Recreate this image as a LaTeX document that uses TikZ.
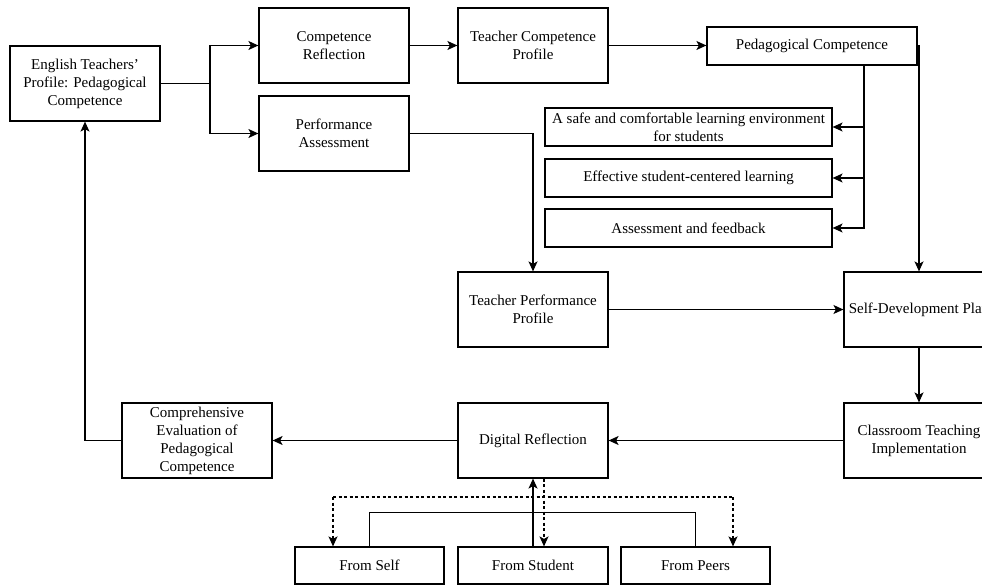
\documentclass[tikz,border=0pt]{standalone}
\usepackage{fontspec}
\setmainfont{Liberation Serif}
\usetikzlibrary{arrows.meta,calc}
\begin{document}
\begin{tikzpicture}[x=1pt,y=-1pt,
  box/.style={draw, line width=1.2pt, rectangle, align=center, inner sep=2pt,
    font=\fontsize{15}{18}\selectfont, minimum width=150pt, minimum height=75pt},
  sbox/.style={box, minimum height=38pt},
  conn/.style={line width=1.2pt},
  arr/.style={conn, -{Stealth[length=10pt,width=9pt,inset=2.5pt]}},
  dashline/.style={conn, dash pattern=on 3pt off 2.5pt},
  dasharr/.style={dashline, -{Stealth[length=10pt,width=9pt,inset=2.5pt]}},
  ]
\useasboundingbox (0,0) rectangle (982,585);
\clip (0,0) rectangle (982,585);

% nodes
\node[box] (eng) at (85,83.5) {English Teachers’\\Profile: Pedagogical\\Competence};
\node[box] (cr) at (334,45.5) {Competence\\Reflection};
\node[box] (pa) at (334,133.5) {Performance\\Assessment};
\node[box] (tcp) at (533,45.5) {Teacher Competence\\Profile};
\node[sbox, minimum width=210pt] (pc) at (812,46) {Pedagogical Competence};
\node[sbox, minimum width=287pt] (s1) at (688.5,127) {A safe and comfortable learning environment\\for students};
\node[sbox, minimum width=287pt] (s2) at (688.5,178) {Effective student-centered learning};
\node[sbox, minimum width=287pt] (s3) at (688.5,228) {Assessment and feedback};
\node[box] (tpp) at (533,309.5) {Teacher Performance\\Profile};
\node[box] (sdp) at (919,309.5) {Self-Development Plan};
\node[box] (cti) at (919,440.5) {Classroom Teaching\\Implementation};
\node[box] (dr) at (533,440.5) {Digital Reflection};
\node[box] (ce) at (197,440.5) {Comprehensive\\Evaluation of\\Pedagogical\\Competence};
\node[box, minimum width=149pt, minimum height=37pt] (fself) at (369.5,565.5) {From Self};
\node[box, minimum width=150pt, minimum height=37pt] (fstud) at (533,565.5) {From Student};
\node[box, minimum width=149pt, minimum height=37pt] (fpeer) at (695.5,565.5) {From Peers};

% coordinates
\coordinate (split) at (210,83.5);
\coordinate (pcb) at (864,65);
\coordinate (dl) at (333,497);
\coordinate (dRr) at (733,497);

% connectors
\draw[conn] (eng.east) -- (split);
\draw[arr] (split) |- (cr.west);
\draw[arr] (split) |- (pa.west);
\draw[arr] (cr) -- (tcp);
\draw[arr] (tcp.east) -- (tcp.east -| pc.west);
\draw[arr] (pc.east) -| (sdp.north);
\draw[arr] (pcb) |- (s1.east);
\draw[arr] (pcb) |- (s2.east);
\draw[arr] (pcb) |- (s3.east);
\draw[arr] (pa.east) -| (tpp.north);
\draw[arr] (tpp) -- (sdp);
\draw[arr] (sdp) -- (cti);
\draw[arr] (cti) -- (dr);
\draw[arr] (dr) -- (ce);
\draw[arr] (ce.west) -| (eng.south);

\draw[conn] (fself.north) -- ++(0,-34) -| (fpeer.north);
\draw[arr] (fstud.north) -- (dr.south);
\draw[dasharr] ([xshift=11pt]dr.south) -- ([xshift=11pt]fstud.north);
\draw[dashline] (dl) -- (dRr);
\draw[dasharr] (dl) -- (dl |- fself.north);
\draw[dasharr] (dRr) -- (dRr |- fpeer.north);
\end{tikzpicture}
\end{document}
